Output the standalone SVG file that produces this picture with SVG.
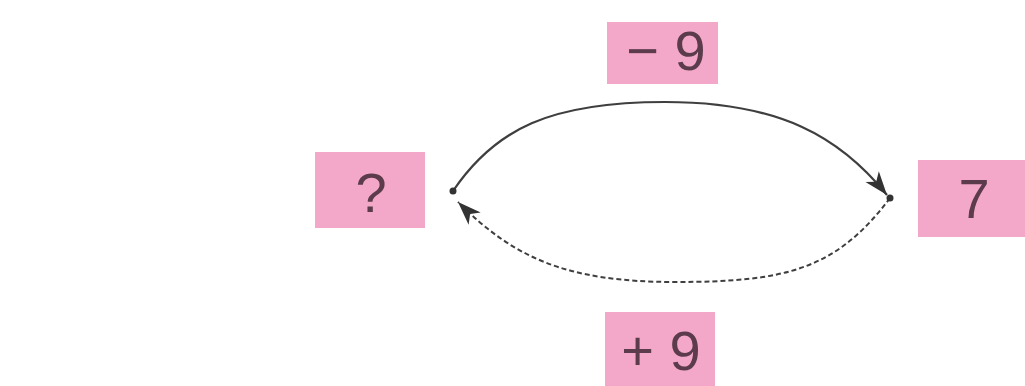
<svg xmlns="http://www.w3.org/2000/svg" width="1025" height="386" viewBox="0 0 1025 386">
<style>
.box{fill:#f4a8c9;}
.lbl{font-family:"Liberation Sans",Arial,sans-serif;font-size:56px;fill:#5b3b4c;text-anchor:middle;}
.arc{fill:none;stroke:#3f3f3f;stroke-width:2.2;}
.dash{stroke-dasharray:5,3;stroke-width:2;}
.dot{fill:#333;}
</style>
<defs>
<marker id="ah" markerUnits="userSpaceOnUse" markerWidth="30" markerHeight="30" viewBox="-24 -12 28 24" refX="0" refY="0" orient="auto">
<path d="M0,0 L-22,-8 L-16,0 L-22,8 Z" fill="#333"/>
</marker>
</defs>
<rect width="1025" height="386" fill="#ffffff"/>
<g id="connectors">
<path class="arc" d="M453,191 C495,129 550,102 665,102 C780,102 840,137 887,195" marker-end="url(#ah)"/>
<path class="arc dash" d="M890,198 C836,270 785,282 675,282 C565,282 513,257 458,202" marker-end="url(#ah)"/>
<circle class="dot" cx="453" cy="191" r="3.5"/>
<circle class="dot" cx="890" cy="198" r="3.5"/>
</g>
<g id="node-minus9">
<rect class="box" x="607" y="22" width="111" height="62"/>
<text class="lbl" x="666" y="70">− 9</text>
</g>
<g id="node-question">
<rect class="box" x="315" y="152" width="110" height="76"/>
<text class="lbl" x="371" y="212">?</text>
</g>
<g id="node-7">
<rect class="box" x="918" y="160" width="107" height="77"/>
<text class="lbl" x="974" y="218">7</text>
</g>
<g id="node-plus9">
<rect class="box" x="605" y="312" width="110" height="74"/>
<text class="lbl" x="661" y="370">+ 9</text>
</g>
</svg>
